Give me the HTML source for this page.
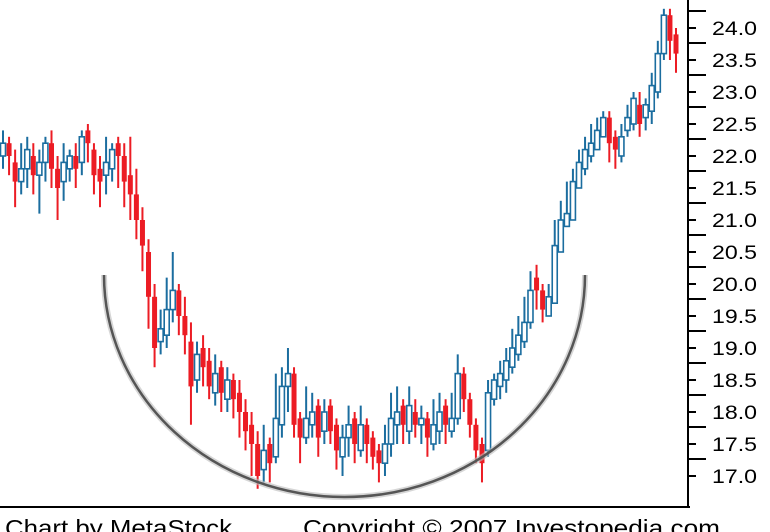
<!DOCTYPE html>
<html><head><meta charset="utf-8"><style>
html,body{margin:0;padding:0;background:#fff;}
svg{display:block;font-family:"Liberation Sans",sans-serif;}
</style></head><body>
<svg id="chart" width="770" height="532" viewBox="0 0 770 532">
<g id="bars"></g>
<path d="M104,275 A240.5,222 0 0 0 585,275" fill="none" stroke="#bbb" stroke-width="6" opacity="0.6"/>
<path d="M104,275 A240.5,222 0 0 0 585,275" fill="none" stroke="#555" stroke-width="2.5"/>
<line x1="0" y1="507" x2="690" y2="507" stroke="#000" stroke-width="2"/>
<line x1="688" y1="0" x2="688" y2="508" stroke="#000" stroke-width="2"/>
<g id="yaxis"></g>
<text x="5" y="536" font-size="23" textLength="227" lengthAdjust="spacingAndGlyphs" fill="#000">Chart by MetaStock</text>
<text x="303" y="536" font-size="23" textLength="417" lengthAdjust="spacingAndGlyphs" fill="#000">Copyright © 2007 Investopedia.com</text>
</svg>
<script>
const opens=[22.0,22.2,21.9,21.6,21.8,22.0,21.7,21.9,22.2,21.8,21.6,21.8,22.0,21.9,22.4,22.1,21.8,21.7,21.8,22.2,22.0,21.7,
21.4,21.0,20.5,19.8,19.1,19.2,19.6,19.9,19.5,19.1,18.5,19.0,18.8,18.3,18.7,18.2,18.5,18.3,18.0,17.8,17.5,17.1,17.5,17.3,17.8,18.4,18.6,17.9,17.6,17.8,18.1,17.7,18.1,17.8,17.3,17.6,17.9,17.4,17.8,17.6,17.4,17.2,17.5,17.8,18.1,17.7,18.0,17.8,17.9,17.5,17.7,18.1,17.7,17.9,18.6,18.2,17.8,17.5,17.4,18.2,18.4,18.5,18.7,18.9,19.1,19.4,20.1,19.9,19.5,19.7,20.5,20.9,21.0,21.5,21.8,22.0,22.1,22.3,22.6,22.3,22.0,22.4,22.5,22.8,22.6,22.7,23.0,23.6,24.2,23.9];
const closes=[22.2,22.0,21.6,21.8,22.1,21.7,21.9,22.2,21.8,21.5,21.9,22.0,21.8,22.3,22.2,21.7,21.6,21.9,22.1,22.0,21.6,21.4,
21.0,20.6,19.8,19.0,19.3,19.6,19.9,19.5,19.2,18.4,18.9,18.7,18.4,18.6,18.3,18.5,18.2,18.0,17.7,17.5,17.0,17.4,17.2,17.9,18.4,18.6,17.8,17.6,17.9,18.0,17.6,18.0,17.7,17.4,17.6,17.8,17.5,17.8,17.5,17.3,17.2,17.5,17.9,18.0,17.8,18.1,17.8,17.9,17.6,17.8,18.0,17.8,17.9,18.6,18.2,17.8,17.4,17.2,18.3,18.5,18.6,18.8,19.0,19.2,19.4,19.9,19.9,19.6,19.8,20.6,21.0,21.1,21.6,21.9,22.1,22.2,22.4,22.6,22.2,22.1,22.3,22.6,22.9,22.5,22.8,23.1,23.6,24.2,23.8,23.6];
const highs=[22.4,22.3,22.1,22.2,22.3,22.2,22.1,22.3,22.4,22.0,22.2,22.1,22.2,22.4,22.5,22.2,22.0,22.3,22.2,22.3,22.2,22.3,
21.8,21.2,20.7,20.0,19.6,20.1,20.5,20.0,19.8,19.4,19.1,19.2,19.0,18.9,18.8,18.7,18.6,18.5,18.2,18.0,17.7,17.8,17.6,18.6,18.7,19.0,18.7,18.0,18.4,18.3,18.2,18.2,18.2,17.9,17.8,18.1,18.0,18.1,17.9,17.7,17.5,17.8,18.3,18.4,18.2,18.4,18.2,18.1,18.0,18.2,18.3,18.2,18.3,18.9,18.7,18.3,17.9,17.6,18.5,18.6,18.8,19.0,19.3,19.5,19.8,20.2,20.3,20.0,20.0,21.0,21.3,21.6,21.8,22.1,22.3,22.5,22.6,22.7,22.7,22.4,22.5,22.8,23.0,23.0,22.9,23.3,23.8,24.3,24.3,24.0];
const lows=[21.8,21.7,21.2,21.4,21.5,21.4,21.1,21.6,21.5,21.0,21.3,21.6,21.5,21.7,21.9,21.4,21.2,21.4,21.6,21.5,21.2,21.0,
20.7,20.2,19.3,18.7,18.9,19.0,19.4,19.2,18.9,17.8,18.3,18.4,18.2,18.1,18.0,18.0,17.9,17.6,17.4,17.0,16.8,16.9,16.9,17.2,17.6,18.0,17.6,17.2,17.5,17.6,17.3,17.5,17.5,17.1,17.0,17.3,17.2,17.3,17.2,17.1,16.9,17.0,17.3,17.5,17.5,17.5,17.6,17.5,17.3,17.4,17.5,17.5,17.6,17.8,18.0,17.6,17.2,16.9,17.3,18.1,18.2,18.3,18.6,18.8,19.0,19.3,19.6,19.4,19.5,20.3,20.6,20.9,21.0,21.5,21.7,21.9,22.1,22.4,21.9,21.8,21.9,22.3,22.4,22.3,22.4,22.5,22.9,23.5,23.5,23.3];
const tickValues=[24.0,23.5,23.0,22.5,22.0,21.5,21.0,20.5,20.0,19.5,19.0,18.5,18.0,17.5,17.0];
const tickLabels=["24.0","23.5","23.0","22.5","22.0","21.5","21.0","20.5","20.0","19.5","19.0","18.5","18.0","17.5","17.0"];

const NS="http://www.w3.org/2000/svg";
function yScale(p){return 28+(24-p)*64;}
function xScale(i){return 3+i*(673/(opens.length-1));}
const bars=document.getElementById('bars');
for(let i=0;i<opens.length;i++){
  const up=closes[i]>=opens[i];
  const col=up?'#1b6d9f':'#ec1c24';
  const x=xScale(i);
  const g=document.createElementNS(NS,'g');
  
  
  const w=document.createElementNS(NS,'line');
  
  
  w.setAttribute('x1',x);w.setAttribute('x2',x);
  w.setAttribute('y1',yScale(highs[i]));w.setAttribute('y2',yScale(lows[i]));
  w.setAttribute('stroke',col);w.setAttribute('stroke-width','2');
  g.appendChild(w);
  const top=yScale(Math.max(opens[i],closes[i]));
  const bot=yScale(Math.min(opens[i],closes[i]));
  const r=document.createElementNS(NS,'rect');
  
  
  r.setAttribute('x',x-2.5);r.setAttribute('width',5);
  r.setAttribute('y',top);r.setAttribute('height',Math.max(2,bot-top));
  if(up){r.setAttribute('fill','#fff');r.setAttribute('stroke',col);r.setAttribute('stroke-width','1.6');}
  else{r.setAttribute('fill',col);}
  g.appendChild(r);
  bars.appendChild(g);
}
const ya=document.getElementById('yaxis');
for(let k=0;k<tickValues.length;k++){
  const y=yScale(tickValues[k]);
  const t=document.createElementNS(NS,'line');
  
  
  t.setAttribute('x1',688);t.setAttribute('x2',696);t.setAttribute('y1',y);t.setAttribute('y2',y);
  t.setAttribute('stroke','#000');t.setAttribute('stroke-width','2');
  ya.appendChild(t);
  const t2=document.createElementNS(NS,'line');
  
  
  t2.setAttribute('x1',688);t2.setAttribute('x2',706);t2.setAttribute('y1',y-17);t2.setAttribute('y2',y-17);
  t2.setAttribute('stroke','#000');t2.setAttribute('stroke-width','2');
  ya.appendChild(t2);
  const lb=document.createElementNS(NS,'text');
  
  
  lb.setAttribute('x',712);lb.setAttribute('y',y+7);
  lb.setAttribute('font-size','19');
  lb.setAttribute('textLength','45');
  lb.setAttribute('lengthAdjust','spacingAndGlyphs');
  lb.textContent=tickLabels[k];
  ya.appendChild(lb);
}
</script>
</body></html>
